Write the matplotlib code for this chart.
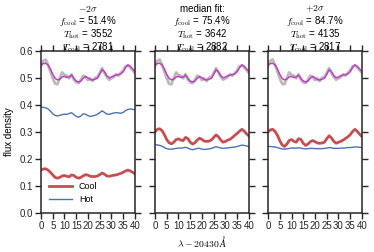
import matplotlib
matplotlib.use("Agg")
import matplotlib.pyplot as plt
import numpy as np

plt.rcParams['font.family'] = ['Liberation Sans', 'DejaVu Sans']
plt.rcParams['mathtext.fontset'] = 'cm'
plt.rcParams['font.size'] = 7
plt.rcParams['axes.edgecolor'] = '0.15'
plt.rcParams['xtick.color'] = '0.15'
plt.rcParams['ytick.color'] = '0.15'

wav = np.arange(0, 41, 1)

data = [0.545, 0.565, 0.570, 0.550, 0.525, 0.500, 0.480, 0.478, 0.500, 0.522,
        0.512, 0.510, 0.500, 0.515, 0.495, 0.485, 0.482, 0.495, 0.510, 0.505,
        0.493, 0.500, 0.490, 0.502, 0.505, 0.520, 0.538, 0.520, 0.505, 0.495,
        0.500, 0.505, 0.515, 0.510, 0.520, 0.530, 0.545, 0.548, 0.540, 0.530,
        0.520]

model = [0.550, 0.555, 0.556, 0.550, 0.535, 0.515, 0.500, 0.494, 0.497, 0.505,
         0.507, 0.503, 0.505, 0.512, 0.500, 0.490, 0.486, 0.490, 0.500, 0.507,
         0.502, 0.495, 0.494, 0.497, 0.500, 0.515, 0.532, 0.525, 0.510, 0.502,
         0.505, 0.510, 0.512, 0.514, 0.517, 0.525, 0.540, 0.550, 0.545, 0.535,
         0.525]

cool_lo = [0.158, 0.162, 0.163, 0.158, 0.150, 0.140, 0.131, 0.128, 0.131, 0.136,
           0.138, 0.135, 0.133, 0.140, 0.138, 0.131, 0.128, 0.131, 0.137, 0.141,
           0.139, 0.135, 0.134, 0.134, 0.136, 0.141, 0.147, 0.143, 0.136, 0.135,
           0.137, 0.139, 0.140, 0.143, 0.146, 0.150, 0.155, 0.158, 0.155, 0.150,
           0.144]
hot_lo = [0.392, 0.392, 0.390, 0.386, 0.378, 0.368, 0.362, 0.360, 0.362, 0.365,
          0.366, 0.366, 0.369, 0.372, 0.365, 0.358, 0.355, 0.360, 0.368, 0.366,
          0.361, 0.358, 0.360, 0.362, 0.366, 0.372, 0.379, 0.373, 0.367, 0.366,
          0.368, 0.371, 0.372, 0.371, 0.370, 0.373, 0.380, 0.384, 0.386, 0.384,
          0.383]

cool_med = [0.300, 0.310, 0.312, 0.305, 0.290, 0.272, 0.260, 0.256, 0.262, 0.272,
            0.274, 0.270, 0.268, 0.280, 0.275, 0.262, 0.255, 0.260, 0.270, 0.277,
            0.272, 0.266, 0.265, 0.266, 0.270, 0.280, 0.289, 0.282, 0.270, 0.262,
            0.265, 0.270, 0.273, 0.280, 0.288, 0.295, 0.303, 0.310, 0.303, 0.293,
            0.285]
hot_med = [0.252, 0.252, 0.250, 0.247, 0.242, 0.238, 0.236, 0.236, 0.237, 0.239,
           0.240, 0.240, 0.241, 0.243, 0.240, 0.236, 0.234, 0.236, 0.239, 0.239,
           0.236, 0.235, 0.236, 0.237, 0.239, 0.242, 0.245, 0.243, 0.240, 0.239,
           0.240, 0.241, 0.242, 0.243, 0.244, 0.246, 0.249, 0.251, 0.250, 0.248,
           0.245]

cool_hi = [0.300, 0.308, 0.310, 0.302, 0.288, 0.268, 0.252, 0.246, 0.255, 0.268,
           0.272, 0.265, 0.262, 0.275, 0.272, 0.258, 0.250, 0.255, 0.264, 0.268,
           0.264, 0.259, 0.258, 0.259, 0.262, 0.275, 0.286, 0.278, 0.265, 0.258,
           0.262, 0.265, 0.270, 0.276, 0.282, 0.290, 0.302, 0.310, 0.302, 0.292,
           0.283]
hot_hi = [0.246, 0.246, 0.245, 0.244, 0.242, 0.239, 0.237, 0.236, 0.237, 0.239,
          0.240, 0.240, 0.240, 0.241, 0.240, 0.238, 0.237, 0.238, 0.239, 0.239,
          0.238, 0.238, 0.238, 0.238, 0.239, 0.240, 0.242, 0.241, 0.239, 0.239,
          0.239, 0.240, 0.240, 0.241, 0.242, 0.242, 0.243, 0.244, 0.244, 0.243,
          0.242]

headers = [r'$-2\sigma$', 'median fit:', r'$+2\sigma$']
f_cool = ['51.4%', '75.4%', '84.7%']
t_hot = ['3552', '3642', '4135']
t_cool = ['2781', '2882', '2817']
cools = [cool_lo, cool_med, cool_hi]
hots = [hot_lo, hot_med, hot_hi]

fig = plt.figure(figsize=(3.74, 2.52), dpi=100)
lefts = [0.1096, 0.4144, 0.7166]

for i in range(3):
    ax = fig.add_axes([lefts[i], 0.1567, 0.2513, 0.639])
    ax.plot(wav, data, color='0.7', lw=2.0, alpha=0.9)
    ax.plot(wav, model, color='#c040c0', lw=1.1)
    ax.plot(wav, cools[i], color='#C44E52', lw=2.0, label='Cool')
    ax.plot(wav, hots[i], color='#4C72B0', lw=1.0, label='Hot')
    ax.set_xlim(0, 40)
    ax.set_ylim(0, 0.6)
    ax.set_xticks(np.arange(0, 41, 5))
    ax.set_yticks(np.arange(0, 0.61, 0.1))
    ax.tick_params(direction='out', top=True, right=True, length=4, width=1, pad=2)
    for s in ax.spines.values():
        s.set_linewidth(1.1)
    lines = [headers[i],
             r'$f_{\rm cool}$ = ' + f_cool[i],
             r'$T_{\rm hot}$ = ' + t_hot[i],
             r'$T_{\rm cool}$ = ' + t_cool[i]]
    for k, line in enumerate(lines):
        ax.text(0.5, 1.0 + 0.08 * (3 - k) + 0.008, line, transform=ax.transAxes,
                ha='center', va='baseline', fontsize=7)
    if i == 0:
        ax.set_ylabel('flux density')
        ax.legend(loc='lower left', frameon=False, fontsize=6.5, handlelength=2.5)
    else:
        ax.set_yticklabels([])
    if i == 1:
        ax.set_xlabel(r'$\lambda - 20430\,\AA$', labelpad=2)

fig.savefig('out.png', dpi=100)
